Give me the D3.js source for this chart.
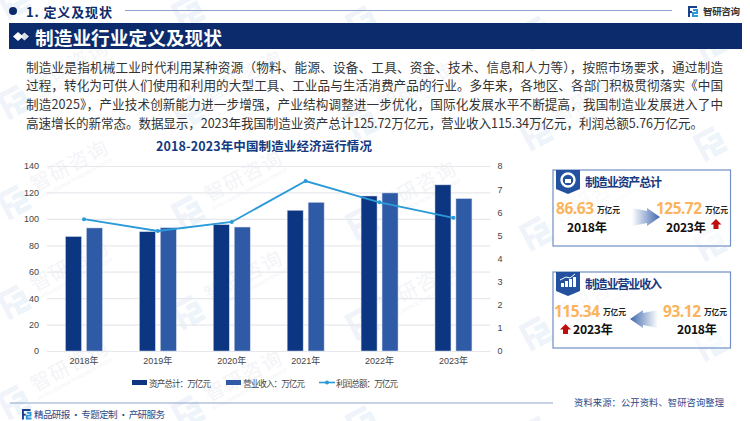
<!DOCTYPE html>
<html lang="zh">
<head>
<meta charset="utf-8">
<script src="https://cdn.jsdelivr.net/npm/d3@7"></script>
<style>
html,body{margin:0;padding:0;background:#fff;overflow:hidden}
svg{display:block}
text{font-family:"Noto Sans CJK SC","Noto Sans",sans-serif}
.num{font-family:"Open Sans","Noto Sans",sans-serif}
.tick{font-family:"Liberation Sans","Noto Sans CJK SC",sans-serif}
</style>
</head>
<body>
<svg id="c" width="750" height="421" viewBox="0 0 750 421"></svg>
<script>
const years = ["2018年","2019年","2020年","2021年","2022年","2023年"];
const assets = [86.63,90.3,95.6,106.5,117.3,125.72];
const revenue = [93.12,93.3,93.8,112.5,119.6,115.34];
const profit = [5.7,5.19,5.58,7.35,6.43,5.76];
const seriesNames = ["资产总计：万亿元","营业收入：万亿元","利润总额：万亿元"];
const leftTicks = [0,20,40,60,80,100,120,140];
const rightTicks = [0,1,2,3,4,5,6,7,8];
const bodyLines = [
 "制造业是指机械工业时代利用某种资源（物料、能源、设备、工具、资金、技术、信息和人力等），按照市场要求，通过制造",
 "过程，转化为可供人们使用和利用的大型工具、工业品与生活消费产品的行业。多年来，各地区、各部门积极贯彻落实《中国",
 "制造2025》，产业技术创新能力进一步增强，产业结构调整进一步优化，国际化发展水平不断提高，我国制造业发展进入了中",
 "高速增长的新常态。数据显示，2023年我国制造业资产总计125.72万亿元，营业收入115.34万亿元，利润总额5.76万亿元。"
];

const NAVY="#0c2b6c", C1="#0d3682", C2="#2f5aa6", C3="#2a9ad8", ORANGE="#fbb45c";
const svg=d3.select("#c");
const T=(g,s,x,y,o={})=>{
  const t=g.append("text").text(s).attr("x",x).attr("y",y)
   .attr("font-size",o.size||10).attr("fill",o.fill||"#222")
   .attr("font-weight",o.weight||400).attr("text-anchor",o.anchor||"start")
   .attr("dominant-baseline","central");
  if(o.cls)t.attr("class",o.cls);
  if(o.len)t.attr("textLength",o.len).attr("lengthAdjust","spacing");
  return t;
};
// brand mark, drawn in a 10x11 box
function mark(g,x,y,k,c1,c2){
  const m=g.append("g").attr("transform",`translate(${x},${y}) scale(${k})`)
    .attr("fill","none").attr("stroke-width",2);
  m.append("path").attr("d","M1 11V1H9").attr("stroke",c1);
  m.append("path").attr("d","M1 6H4").attr("stroke",c1);
  m.append("path").attr("d","M5 4H9V7H5V10H10").attr("stroke",c2);
}
const defs=svg.append("defs");
const gr=defs.append("linearGradient").attr("id","gr").attr("x1",0).attr("x2",1);
gr.append("stop").attr("offset",0).attr("stop-color","#fff");
gr.append("stop").attr("offset",1).attr("stop-color","#3f68ad");
const gl=defs.append("linearGradient").attr("id","gl").attr("x1",1).attr("x2",0);
gl.append("stop").attr("offset",0).attr("stop-color","#fff");
gl.append("stop").attr("offset",1).attr("stop-color","#3f68ad");

// watermark: marks everywhere, wordmark only where it fits inside the frame
const wm=svg.append("g");
d3.range(0,5).forEach(r=>d3.range(0,5).forEach(k=>{
  const x=15+174*k, y=100*r+0.06*(15+174*k);
  const g=wm.append("g").attr("transform",`translate(${x},${y}) rotate(-28)`);
  mark(g,-14,-14,2.6,"#f0f4fa","#edf5fa");
  if(x+100<750 && y-66>0 && y+5<421){
    T(g,"智研咨询",22,-7,{size:20,fill:"#f3f4f7",len:84});
    T(g,"INTELLIGENCE RESEARCH GROUP",22,9,{size:4.6,fill:"#f1f2f6",cls:"tick",len:84});
  }
}));

// header
svg.append("circle").attr("cx",13).attr("cy",11).attr("r",4).attr("fill",NAVY);
T(svg,"1. 定义及现状",26,11.5,{size:13,weight:700,fill:NAVY,len:86});
svg.append("line").attr("x1",125).attr("x2",672).attr("y1",10.5).attr("y2",10.5).attr("stroke","#8fa3cc").attr("stroke-width",1.2);
mark(svg,688,6,1,"#1c3f8a","#2a9ad8");
T(svg,"智研咨询",703,11,{size:9.5,weight:700,fill:"#333",len:37});
svg.append("rect").attr("x",9).attr("y",23).attr("width",733).attr("height",26).attr("fill",NAVY);
svg.append("path").attr("d","M13 36.5l5-4.5 5 4.5-5 4.5z").attr("fill","#fff");
svg.append("path").attr("d","M20 36.5l4.5-4 4.5 4-4.5 4z").attr("fill","#fff").attr("opacity",.85);
T(svg,"制造业行业定义及现状",35,36,{size:18.7,weight:700,fill:"#fff",len:187});

// body
const bodyEnds=[723,723,723,703], bodyY=[66,84.5,103,122];
bodyLines.forEach((s,i)=>T(svg,s,26,bodyY[i],{size:12.6,fill:"#333",len:bodyEnds[i]-26}));

T(svg,"2018-2023年中国制造业经济运行情况",156,145,{size:12.5,weight:700,fill:"#123a80",len:216});

// chart
const L=47,R=490.4,B=351,TOP=166;
const x=d3.scaleBand().domain(years).range([L,R]).paddingInner(.5).paddingOuter(.25);
const xs=d3.scaleBand().domain(["a","b"]).range([0,x.bandwidth()]).paddingInner(.238);
const yL=d3.scaleLinear().domain([0,140]).range([B,TOP]);
const yR=d3.scaleLinear().domain([0,8]).range([B,TOP]);
const cx=d=>x(d)+x.bandwidth()/2;
const gAxisL=svg.append("g").attr("transform",`translate(${L},0)`).call(d3.axisLeft(yL).tickValues(leftTicks).tickSize(-(R-L)).tickPadding(8));
const gAxisR=svg.append("g").attr("transform",`translate(${R},0)`).call(d3.axisRight(yR).tickValues(rightTicks).tickSize(0).tickPadding(7));
const gAxisB=svg.append("g").attr("transform",`translate(0,${B})`).call(d3.axisBottom(x).tickSize(0).tickPadding(7));
[gAxisL,gAxisR,gAxisB].forEach(a=>{
  a.select(".domain").remove();
  a.selectAll("text").attr("class","tick").attr("font-size",9).attr("fill","#444").style("font-family",'"Liberation Sans","Noto Sans CJK SC",sans-serif');
});
gAxisL.selectAll("line").attr("stroke","#e6e8ec").attr("stroke-width",1.2);
const bars=svg.append("g");
[[assets,"a",C1],[revenue,"b",C2]].forEach(([vals,k,c])=>{
  bars.selectAll(null).data(vals).join("rect")
   .attr("x",(d,i)=>x(years[i])+xs(k)).attr("width",xs.bandwidth())
   .attr("y",d=>yL(d)).attr("height",d=>B-yL(d))
   .attr("fill",c).attr("stroke","#cfd8ea").attr("stroke-width",.5);
});
const line=d3.line().x((d,i)=>cx(years[i])).y(d=>yR(d));
svg.append("path").datum(profit).attr("d",line).attr("fill","none").attr("stroke",C3).attr("stroke-width",1.8);
svg.selectAll(null).data(profit).join("circle").attr("cx",(d,i)=>cx(years[i])).attr("cy",d=>yR(d)).attr("r",2).attr("fill",C3);

// legend
const lg=svg.append("g");
[[132,C1],[226,C2]].forEach(([lx,c],i)=>{
  lg.append("rect").attr("x",lx).attr("y",380).attr("width",15).attr("height",5).attr("fill",c);
  T(lg,seriesNames[i],lx+17,382.5,{size:8.6,fill:"#444",len:62});
});
lg.append("line").attr("x1",319).attr("x2",335).attr("y1",382.5).attr("y2",382.5).attr("stroke",C3).attr("stroke-width",1.6);
lg.append("circle").attr("cx",327).attr("cy",382.5).attr("r",2).attr("fill",C3);
T(lg,seriesNames[2],336,382.5,{size:8.6,fill:"#444",len:62});

// cards
function card(y,title,iconKind){
  const g=svg.append("g");
  g.append("rect").attr("x",553).attr("y",y).attr("width",177.5).attr("height",76).attr("fill","#fff").attr("fill-opacity",.55).attr("stroke","#6f8fc6").attr("stroke-width",1.2);
  g.append("path").attr("d",`M556 ${y}h24v19l-12 5l-12-5z`).attr("fill","#23509f");
  if(iconKind==="ring"){
    g.append("circle").attr("cx",568).attr("cy",y+10).attr("r",6.5).attr("fill","none").attr("stroke","#fff").attr("stroke-width",2.4);
    g.append("rect").attr("x",565).attr("y",y+9).attr("width",6).attr("height",4).attr("fill","#fff");
  }else{
    [[561,4],[565,6],[569,8],[573,10]].forEach(([bx,h])=>g.append("rect").attr("x",bx).attr("y",y+15-h).attr("width",3).attr("height",h).attr("fill","#fff"));
    g.append("path").attr("d",`M560 ${y+8}l6-3 4 1 5-4`).attr("fill","none").attr("stroke","#fff").attr("stroke-width",1);
  }
  T(g,title,585,y+11.5,{size:12,weight:700,fill:"#17397f",len:77});
  return g;
}
const big=(g,s,x0,w,y)=>T(g,s,x0,y,{size:15.5,weight:700,fill:ORANGE,cls:"num",len:w});
const unit=(g,x0,y)=>T(g,"万亿元",x0,y,{size:7.8,weight:700,fill:"#222",len:23});
const yr=(g,s,x0,y)=>T(g,s,x0,y,{size:12.2,weight:700,fill:"#111",len:40});
const up=(g,ux,uy)=>g.append("path").attr("d",`M${ux} ${uy-5}l5.5 5.5h-3v4.5h-5v-4.5h-3z`).attr("fill","#c00d0d");

const c1=card(170,"制造业资产总计","ring");
big(c1,d3.format(".2f")(assets[0]),556,38,208);
unit(c1,597,209);
yr(c1,"2018年",567,227);
c1.append("path").attr("d","M632 208l15 3v-3l13 9-13 9v-3l-15 3z").attr("fill","url(#gr)");
big(c1,d3.format(".2f")(assets[5]),656,46,208);
unit(c1,705,209);
yr(c1,"2023年",666,227);
up(c1,716,224);

const c2=card(272,"制造业营业收入","bars");
big(c2,d3.format(".2f")(revenue[5]),554,46,311);
unit(c2,603,311.5);
c2.append("path").attr("d","M658 310l-15 3v-3l-13 9 13 9v-3l15 3z").attr("fill","url(#gl)");
big(c2,d3.format(".2f")(revenue[0]),663,38,311);
unit(c2,704,311.5);
up(c2,565.5,329);
yr(c2,"2023年",573,329);
yr(c2,"2018年",677,329);

// footer
svg.append("line").attr("x1",10).attr("x2",553).attr("y1",403).attr("y2",403).attr("stroke","#8fa3cc").attr("stroke-width",1.2);
mark(svg,22,409,.95,"#1c3f8a","#2a9ad8");
T(svg,"精品研报 · 专题定制 · 产研服务",34,414,{size:9.6,fill:"#2c4a8a",len:131});
T(svg,"资料来源：公开资料、智研咨询整理",574,402,{size:9.3,fill:"#2c4a8a",len:150});
</script>
</body>
</html>
